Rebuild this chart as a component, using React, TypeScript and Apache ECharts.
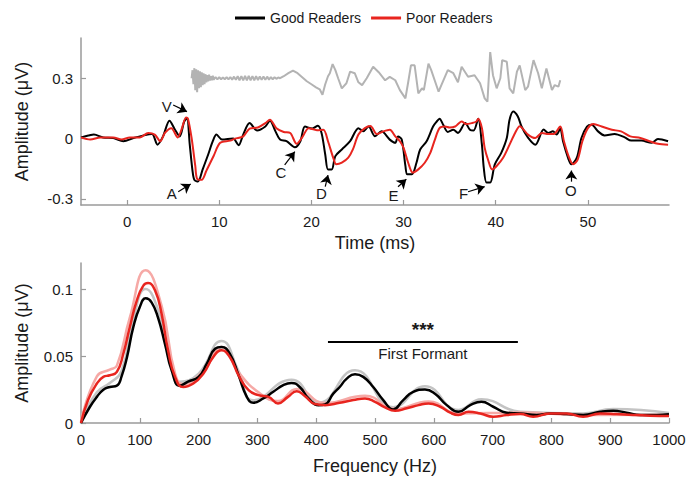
import React, { useEffect, useRef } from "react";
import * as echarts from "echarts";

// ---------- Top panel: time domain (ms, µV) ----------
const goodTime: [number, number][] = [
  [-5, 0.006], [-4.2, 0.015], [-3.6, 0.02], [-2.6, 0.006], [-1.5, 0.003], [-0.4, -0.013], [0.7, 0.003],
  [1.8, 0.016], [2.7, 0.023], [3.3, -0.03], [3.9, 0.011], [4.6, 0.089], [5.2, 0.044], [5.7, 0.011],
  [6.2, 0.085], [6.5, 0.1], [6.8, -0.03], [7.1, -0.16], [7.3, -0.205], [7.7, -0.213], [8.2, -0.153],
  [8.8, -0.079], [9.3, -0.013], [9.7, 0.02], [10.3, -0.005], [11.5, 0.0], [12.1, -0.033], [12.6, 0.02],
  [13.3, 0.077], [14.1, 0.04], [15.0, 0.06], [15.5, 0.089], [16.1, 0.036], [16.6, -0.005], [17.3, -0.013],
  [18.2, -0.043], [18.8, -0.013], [19.3, 0.06], [20.1, 0.05], [20.7, 0.064], [21.1, 0.028], [21.5, -0.079],
  [21.8, -0.153], [22.2, -0.153], [22.6, -0.087], [23.3, -0.054], [24.2, -0.013], [25.1, 0.052],
  [25.6, 0.036], [26.2, 0.06], [26.9, 0.012], [27.6, 0.036], [28.5, -0.005], [29.1, -0.021], [29.4, 0.011],
  [29.8, -0.005], [30.2, -0.136], [30.4, -0.177], [30.9, -0.177], [31.4, -0.12], [31.8, -0.054],
  [32.5, -0.013], [33.2, 0.06], [33.6, 0.085], [33.9, 0.099], [34.3, 0.069], [34.8, 0.033], [35.4, 0.044],
  [35.9, 0.028], [36.7, 0.077], [37.2, 0.044], [37.6, 0.04], [38.1, 0.099], [38.5, -0.03], [38.7, -0.144],
  [39.0, -0.218], [39.4, -0.218], [39.9, -0.128], [40.6, -0.071], [41.2, 0.003], [41.5, 0.094],
  [41.9, 0.135], [42.4, 0.11], [42.8, 0.06], [43.5, 0.005], [44.3, -0.03], [45.2, 0.045], [45.7, 0.028],
  [46.2, 0.036], [46.6, 0.02], [47.0, 0.05], [47.3, -0.013], [47.9, -0.103], [48.2, -0.128], [48.8, -0.095],
  [49.3, 0.003], [49.9, 0.06], [50.4, 0.069], [51.1, 0.036], [51.8, 0.016], [52.9, 0.023], [54.0, 0.006],
  [54.7, -0.01], [55.8, -0.01], [56.9, -0.021], [57.6, -0.002], [58.7, -0.013],
];

const poorTime: [number, number][] = [
  [-5, 0.006], [-4.0, -0.005], [-2.9, 0.006], [-1.5, 0.006], [-0.6, -0.005], [0.3, 0.006], [1.4, 0.006],
  [2.3, 0.028], [3.0, 0.02], [3.6, -0.013], [4.1, 0.028], [4.8, 0.052], [5.5, 0.006], [5.9, 0.044],
  [6.4, 0.105], [6.6, 0.1], [7.0, 0.003], [7.4, -0.136], [7.6, -0.2], [8.1, -0.205], [8.6, -0.16],
  [9.4, -0.085], [10.1, -0.021], [11.2, -0.01], [11.7, 0.0], [12.6, 0.011], [13.3, 0.05], [14.2, 0.055],
  [15.0, 0.077], [15.5, 0.094], [16.2, 0.052], [17.0, 0.033], [17.7, 0.028], [18.4, -0.026], [19.0, 0.006],
  [19.7, 0.052], [20.6, 0.042], [21.3, 0.044], [21.8, -0.013], [22.4, -0.1], [22.7, -0.128], [23.3, -0.12],
  [24.0, -0.095], [24.5, -0.054], [25.1, 0.02], [25.8, 0.052], [26.4, 0.063], [27.1, 0.023], [27.8, 0.036],
  [28.5, 0.044], [29.1, 0.011], [29.6, -0.013], [30.0, -0.046], [30.5, -0.12], [31.0, -0.169],
  [31.6, -0.153], [32.3, -0.12], [32.9, -0.071], [33.4, -0.005], [33.9, 0.052], [34.5, 0.06], [35.0, 0.055],
  [35.6, 0.06], [35.9, 0.072], [36.3, 0.085], [36.8, 0.072], [37.4, 0.077], [37.9, 0.085], [38.1, 0.099],
  [38.5, 0.052], [38.8, -0.046], [39.2, -0.11], [39.6, -0.153], [40.1, -0.136], [40.8, -0.095],
  [41.5, -0.03], [42.1, 0.028], [42.6, 0.062], [43.5, 0.02], [44.3, 0.003], [45.0, 0.028], [45.7, 0.023],
  [46.3, 0.023], [47.0, 0.06], [47.4, -0.013], [47.9, -0.087], [48.4, -0.128], [48.9, -0.103],
  [49.4, -0.013], [50.0, 0.052], [50.6, 0.072], [51.5, 0.06], [52.6, 0.044], [53.6, 0.036], [54.6, 0.011],
  [55.7, 0.003], [56.7, -0.013], [57.6, -0.026], [58.7, -0.03],
];

// Stimulus (/da/) waveform drawn above the responses
const stimulus: [number, number][] = [
  [7.0, 0.3], [7.1, 0.34], [7.2, 0.27], [7.3, 0.35], [7.4, 0.24], [7.5, 0.345], [7.6, 0.23], [7.7, 0.34],
  [7.8, 0.25], [7.9, 0.335], [8.0, 0.255], [8.1, 0.33], [8.2, 0.265], [8.3, 0.325], [8.4, 0.27], [8.5, 0.32],
  [8.6, 0.28], [8.7, 0.315], [8.8, 0.285], [8.9, 0.318], [9.0, 0.288], [9.1, 0.31], [9.2, 0.29], [9.3, 0.312],
  [9.4, 0.293], [9.6, 0.306], [9.8, 0.294], [10.0, 0.305], [10.2, 0.295], [10.4, 0.304], [10.6, 0.295],
  [10.8, 0.305], [11.0, 0.294], [11.2, 0.306], [11.4, 0.293], [11.6, 0.308], [11.8, 0.292], [12.0, 0.31],
  [12.2, 0.29], [12.4, 0.311], [12.6, 0.289], [12.8, 0.312], [13.0, 0.289], [13.2, 0.312], [13.4, 0.29],
  [13.6, 0.311], [13.8, 0.29], [14.0, 0.31], [14.2, 0.291], [14.4, 0.309], [14.6, 0.292], [14.8, 0.309],
  [15.0, 0.292], [15.2, 0.308], [15.4, 0.293], [15.6, 0.306], [15.8, 0.295], [16.0, 0.305], [16.2, 0.297],
  [16.4, 0.304], [16.6, 0.3], [17.0, 0.31], [17.5, 0.325], [18.0, 0.338], [18.5, 0.325], [19.0, 0.305],
  [19.5, 0.285], [20.0, 0.27], [20.5, 0.255], [20.9, 0.245], [21.2, 0.218], [21.5, 0.27], [21.8, 0.31],
  [22.0, 0.325], [22.3, 0.37], [22.6, 0.34], [22.9, 0.3], [23.3, 0.25], [23.8, 0.275], [24.2, 0.333],
  [24.7, 0.325], [25.1, 0.28], [25.5, 0.266], [26.0, 0.3], [26.7, 0.357], [27.3, 0.33], [28.0, 0.29],
  [28.5, 0.307], [29.1, 0.29], [29.6, 0.241], [30.2, 0.2], [30.5, 0.28], [30.8, 0.364], [31.2, 0.364],
  [31.6, 0.225], [32.0, 0.25], [32.2, 0.241], [32.7, 0.373], [33.0, 0.34], [33.8, 0.233], [34.1, 0.266],
  [34.8, 0.34], [35.4, 0.325], [35.9, 0.28], [36.3, 0.357], [37.0, 0.307], [37.7, 0.315], [38.3, 0.275],
  [38.8, 0.2], [39.1, 0.184], [39.4, 0.43], [39.7, 0.315], [40.1, 0.25], [40.5, 0.3], [40.7, 0.39],
  [41.2, 0.382], [41.5, 0.25], [41.9, 0.225], [42.3, 0.333], [42.6, 0.364], [43.2, 0.241], [43.5, 0.258],
  [44.1, 0.39], [44.6, 0.325], [45.0, 0.25], [45.5, 0.349], [46.1, 0.241], [46.4, 0.266], [46.8, 0.258],
  [47.0, 0.29],
];

// Peak annotations
const peakLabels = ["V", "A", "C", "D", "E", "F", "O"];
const peakLabelPos: [number, number][] = [
  [4.3, 0.159], [4.85, -0.272], [16.7, -0.169], [21.1, -0.275], [28.9, -0.285], [36.5, -0.272], [48.15, -0.259],
];
const arrowFrom: [number, number][] = [
  [5.0, 0.167], [5.55, -0.264], [17.1, -0.131], [21.5, -0.239], [29.4, -0.239], [37.0, -0.264], [48.2, -0.214],
];
const arrowTo: [number, number][] = [
  [6.5, 0.134], [6.9, -0.226], [18.2, -0.065], [21.8, -0.181], [30.3, -0.202], [38.8, -0.239], [48.2, -0.159],
];

const timeTicks = [0, 10, 20, 30, 40, 50];
const ampTicksTop = [-0.3, 0, 0.3];

// ---------- Bottom panel: spectrum (Hz, µV) ----------
const goodSpec: [number, number][] = [
  [0, 0], [15, 0.012], [27, 0.0196], [38, 0.025], [49, 0.027], [61, 0.028], [69, 0.035], [78, 0.049],
  [89, 0.072], [100, 0.087], [110, 0.0935], [120, 0.0905], [131, 0.079], [143, 0.059], [154, 0.0396],
  [168, 0.028], [182, 0.031], [200, 0.0346], [214, 0.0445], [228, 0.0557], [239, 0.057], [253, 0.052],
  [268, 0.0358], [282, 0.0196], [293, 0.0152], [310, 0.0184], [327, 0.0234], [344, 0.0284], [358, 0.03],
  [372, 0.027], [387, 0.0184], [404, 0.0134], [415, 0.014], [429, 0.022], [440, 0.027], [452, 0.0333],
  [466, 0.0366], [480, 0.0346], [497, 0.027], [514, 0.0172], [531, 0.0102], [548, 0.0172], [565, 0.0234],
  [585, 0.0251], [602, 0.022], [622, 0.0134], [642, 0.0084], [662, 0.0134], [681, 0.0159], [701, 0.0122],
  [724, 0.0077], [747, 0.0072], [775, 0.006], [798, 0.0072], [826, 0.0067], [854, 0.006], [883, 0.0084],
  [905, 0.0092], [928, 0.0077], [951, 0.006], [979, 0.006], [1000, 0.0065],
];

const poorSpec: [number, number][] = [
  [0, 0], [12, 0.0172], [27, 0.0296], [38, 0.0346], [49, 0.0358], [61, 0.0383], [72, 0.052], [83, 0.072],
  [95, 0.092], [106, 0.103], [114, 0.105], [126, 0.0993], [137, 0.0819], [148, 0.0545], [160, 0.0346],
  [174, 0.027], [191, 0.0296], [208, 0.037], [225, 0.0495], [239, 0.0545], [253, 0.0495], [268, 0.0358],
  [285, 0.0246], [302, 0.0209], [319, 0.0196], [335, 0.0147], [352, 0.0196], [367, 0.0239], [381, 0.0201],
  [398, 0.0142], [415, 0.0134], [440, 0.0152], [463, 0.0172], [483, 0.0184], [500, 0.0159], [517, 0.0117],
  [534, 0.0092], [554, 0.011], [574, 0.0134], [591, 0.0147], [611, 0.0122], [628, 0.0077], [642, 0.006],
  [659, 0.0084], [679, 0.0072], [701, 0.0047], [724, 0.006], [747, 0.0067], [769, 0.0047], [798, 0.0072],
  [826, 0.0072], [854, 0.0047], [883, 0.0072], [911, 0.0067], [939, 0.006], [968, 0.0055], [1000, 0.0052],
];

// Upper edge of the standard-error shading
const goodUpper: [number, number][] = [
  [0, 0.001], [27, 0.023], [49, 0.03], [69, 0.039], [89, 0.078], [110, 0.1005], [131, 0.085], [154, 0.044],
  [168, 0.031], [200, 0.037], [239, 0.0615], [268, 0.039], [293, 0.017], [358, 0.0325], [404, 0.0152],
  [466, 0.0395], [531, 0.0118], [585, 0.0275], [642, 0.0098], [681, 0.0178], [747, 0.0085], [854, 0.0072],
  [905, 0.0105], [1000, 0.0075],
];
const poorUpper: [number, number][] = [
  [0, 0.001], [27, 0.035], [49, 0.04], [61, 0.043], [83, 0.079], [110, 0.1145], [137, 0.088], [160, 0.037],
  [174, 0.029], [208, 0.039], [239, 0.057], [268, 0.038], [302, 0.023], [335, 0.0165], [367, 0.0255],
  [415, 0.015], [483, 0.0205], [534, 0.0105], [591, 0.0162], [642, 0.0072], [747, 0.0078], [854, 0.006],
  [1000, 0.0062],
];

const formantRange = [420, 743];
const formantLevel = 0.0607;
const formantTexts: [number, number, string, number][] = [
  [581.5, 0.0702, "***", 19],
  [581.5, 0.0518, "First Formant", 15],
];
const specAmpTicks = [0, 0.05, 0.1];

const FONT = "Liberation Sans";
const TXT = "#1a1a1a";
const AXIS = "#9a9a9a";
const RED = "#e8251f";

function axisCommon() {
  return {
    axisLine: { show: true, onZero: false, lineStyle: { color: AXIS, width: 1.5 } },
    splitLine: { show: false },
    nameTextStyle: { fontSize: 18, color: TXT, fontFamily: FONT },
  };
}

export default function App() {
  const ref = useRef<HTMLDivElement>(null);
  useEffect(() => {
    const chart = echarts.init(ref.current!, null, { renderer: "svg" });
    chart.setOption({
      animation: false,
      backgroundColor: "#fff",
      textStyle: { fontFamily: FONT },
      legend: {
        data: ["Good Readers", "Poor Readers"],
        top: 6,
        left: 230,
        icon: "rect",
        itemWidth: 30,
        itemHeight: 3,
        itemGap: 10,
        textStyle: { fontSize: 14, color: TXT, fontFamily: FONT },
      },
      grid: [
        { left: 81, top: 38, width: 588, height: 167 },
        { left: 81, top: 263, width: 588, height: 160 },
      ],
      xAxis: [
        {
          ...axisCommon(),
          gridIndex: 0,
          type: "value",
          min: -5,
          max: 58.8,
          axisTick: { show: true, inside: true, length: 5, customValues: timeTicks, lineStyle: { color: AXIS, width: 1.2 } },
          axisLabel: { customValues: timeTicks, fontSize: 15, color: TXT, margin: 9 },
          name: "Time (ms)",
          nameLocation: "middle",
          nameGap: 29,
        },
        {
          ...axisCommon(),
          gridIndex: 1,
          type: "value",
          min: 0,
          max: 1000,
          interval: 100,
          axisTick: { show: true, inside: true, length: 5, lineStyle: { color: AXIS, width: 1.2 } },
          axisLabel: { fontSize: 15, color: TXT, margin: 9, formatter: (v: number) => String(v) },
          name: "Frequency (Hz)",
          nameLocation: "middle",
          nameGap: 34,
        },
      ],
      yAxis: [
        {
          ...axisCommon(),
          gridIndex: 0,
          type: "value",
          min: -0.33,
          max: 0.5,
          axisTick: { show: true, inside: true, length: 5, customValues: ampTicksTop, lineStyle: { color: AXIS, width: 1.2 } },
          axisLabel: {
            customValues: ampTicksTop,
            fontSize: 15,
            color: TXT,
            margin: 8,
            formatter: (v: number) => (v === 0 ? "0" : v.toFixed(1)),
          },
          name: "Amplitude (μV)",
          nameLocation: "middle",
          nameGap: 50,
        },
        {
          ...axisCommon(),
          gridIndex: 1,
          type: "value",
          min: 0,
          max: 0.12,
          axisTick: { show: true, inside: true, length: 5, customValues: specAmpTicks, lineStyle: { color: AXIS, width: 1.2 } },
          axisLabel: {
            customValues: specAmpTicks,
            fontSize: 15,
            color: TXT,
            margin: 8,
            formatter: (v: number) => (v === 0 ? "0" : String(v)),
          },
          name: "Amplitude (μV)",
          nameLocation: "middle",
          nameGap: 50,
        },
      ],
      series: [
        {
          name: "stimulus",
          type: "line",
          xAxisIndex: 0,
          yAxisIndex: 0,
          data: stimulus,
          showSymbol: false,
          silent: true,
          lineStyle: { color: "#b3b3b3", width: 2 },
        },
        {
          name: "Good Readers",
          type: "line",
          xAxisIndex: 0,
          yAxisIndex: 0,
          data: goodTime,
          smooth: 0.3,
          showSymbol: false,
          color: "#000",
          lineStyle: { color: "#000", width: 2 },
          markLine: {
            silent: true,
            symbol: ["none", "arrow"],
            symbolSize: 9,
            label: { show: false },
            lineStyle: { color: "#000", width: 1.2, type: "solid" },
            data: arrowFrom.map((f, i) => [{ coord: f }, { coord: arrowTo[i] }]),
          },
        },
        {
          name: "Poor Readers",
          type: "line",
          xAxisIndex: 0,
          yAxisIndex: 0,
          data: poorTime,
          smooth: 0.3,
          showSymbol: false,
          color: RED,
          lineStyle: { color: RED, width: 2 },
        },
        {
          name: "peaks",
          type: "scatter",
          xAxisIndex: 0,
          yAxisIndex: 0,
          silent: true,
          symbolSize: 0,
          itemStyle: { opacity: 1 },
          data: peakLabelPos.map((p, i) => [p[0], p[1], peakLabels[i]]),
          label: {
            show: true,
            position: "inside",
            fontSize: 15,
            color: TXT,
            opacity: 1,
            formatter: (p: any) => p.value[2],
          },
        },
        {
          name: "goodUpper",
          type: "line",
          xAxisIndex: 1,
          yAxisIndex: 1,
          data: goodUpper,
          smooth: 0.5,
          showSymbol: false,
          silent: true,
          lineStyle: { color: "#c4c4c4", width: 2.5 },
        },
        {
          name: "poorUpper",
          type: "line",
          xAxisIndex: 1,
          yAxisIndex: 1,
          data: poorUpper,
          smooth: 0.5,
          showSymbol: false,
          silent: true,
          lineStyle: { color: "#f6a9a6", width: 2.5 },
        },
        {
          name: "Good Readers",
          type: "line",
          xAxisIndex: 1,
          yAxisIndex: 1,
          data: goodSpec,
          smooth: 0.5,
          showSymbol: false,
          color: "#000",
          lineStyle: { color: "#000", width: 2.5 },
          markLine: {
            silent: true,
            symbol: ["none", "none"],
            label: { show: false },
            lineStyle: { color: "#000", width: 2, type: "solid" },
            data: [[{ coord: [formantRange[0], formantLevel] }, { coord: [formantRange[1], formantLevel] }]],
          },
        },
        {
          name: "Poor Readers",
          type: "line",
          xAxisIndex: 1,
          yAxisIndex: 1,
          data: poorSpec,
          smooth: 0.5,
          showSymbol: false,
          color: RED,
          lineStyle: { color: RED, width: 2.5 },
        },
        {
          name: "formant",
          type: "scatter",
          xAxisIndex: 1,
          yAxisIndex: 1,
          silent: true,
          symbolSize: 0,
          itemStyle: { opacity: 1 },
          data: formantTexts.map((d) => ({
            value: [d[0], d[1], d[2]],
            label: { fontSize: d[3], fontWeight: d[2] === "***" ? "bold" : "normal" },
          })),
          label: {
            show: true,
            position: "inside",
            fontSize: 15,
            color: TXT,
            opacity: 1,
            formatter: (p: any) => p.value[2],
          },
        },
      ],
    });
    return () => chart.dispose();
  }, []);
  return <div ref={ref} style={{ position: "fixed", left: 0, top: 0, width: 689, height: 481 }} />;
}
